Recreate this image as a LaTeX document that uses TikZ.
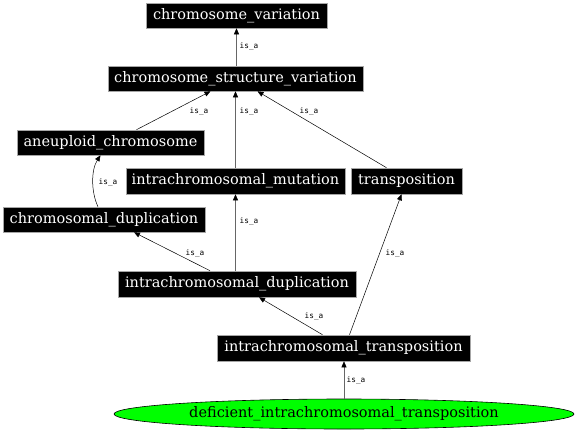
\documentclass[tikz,border=0pt]{standalone}
\usepackage{fontspec}
\setmainfont{DejaVu Serif}
\setmonofont{DejaVu Sans Mono}
\usetikzlibrary{arrows.meta,shapes.geometric}
\tikzset{
  term/.style={fill=black, draw=gray!70, line width=0.6pt, text=white, inner sep=0pt, font=\fontsize{14.5}{17}\selectfont},
  leaf/.style={ellipse, fill=green, draw=black, line width=0.6pt, inner sep=0pt, minimum width=460pt, minimum height=30pt, font=\fontsize{14.5}{17}\selectfont},
  lbl/.style={font=\ttfamily\fontsize{7.7}{9}\selectfont, inner sep=0pt},
  isa/.style={draw=black, line width=0.5pt, -{Triangle[length=6pt,width=5pt]}},
  vert/.style={draw=gray!80!black, line width=0.9pt, -{Triangle[length=6pt,width=5pt,color=black,fill=black,line width=0.5pt]}},
}
\begin{document}
\begin{tikzpicture}[x=1pt,y=-1pt]
\useasboundingbox (0,0) rectangle (576,432);
\node[term, minimum width=181pt, minimum height=25pt] (cv) at (236.5,15.5) {chromosome\_variation};
\node[term, minimum width=255pt, minimum height=25pt] (csv) at (235.5,78.5) {chromosome\_structure\_variation};
\node[term, minimum width=187pt, minimum height=25pt] (aneu) at (110.5,142.5) {aneuploid\_chromosome};
\node[term, minimum width=219pt, minimum height=26pt] (imut) at (235.5,181) {intrachromosomal\_mutation};
\node[term, minimum width=111pt, minimum height=26pt] (trans) at (406.5,181) {transposition};
\node[term, minimum width=202pt, minimum height=25pt] (cdup) at (104,219.5) {chromosomal\_duplication};
\node[term, minimum width=238pt, minimum height=26pt] (idup) at (237,284) {intrachromosomal\_duplication};
\node[term, minimum width=253pt, minimum height=26pt] (itrans) at (343.5,348) {intrachromosomal\_transposition};
\node[leaf] (dit) at (344,414) {deficient\_intrachromosomal\_transposition};

\draw[vert] (csv.north -| cv.south) -- (cv.south) node[lbl] at (249,46) {is\_a};
\draw[isa] ([xshift=26pt]aneu.north) -- ([xshift=-25pt]csv.south) node[lbl] at (199,111) {is\_a};
\draw[vert] (imut.north) -- (csv.south) node[lbl] at (249,111) {is\_a};
\draw[isa] ([xshift=-20pt]trans.north) -- ([xshift=22pt]csv.south) node[lbl] at (309,111) {is\_a};
\draw[isa] ([xshift=-6pt]cdup.north) .. controls (91,192) and (91,170) .. ([xshift=-10pt]aneu.south) node[lbl] at (108,182) {is\_a};
\draw[vert] (idup.north -| imut.south) -- (imut.south) node[lbl] at (249,221) {is\_a};
\draw[isa] ([xshift=-27pt]idup.north) -- ([xshift=30pt]cdup.south) node[lbl] at (195,253) {is\_a};
\draw[isa] ([xshift=-21pt]itrans.north) -- ([xshift=22pt]idup.south) node[lbl] at (314,316) {is\_a};
\draw[isa] ([xshift=6pt]itrans.north) -- ([xshift=-5pt]trans.south) node[lbl] at (395,253) {is\_a};
\draw[vert] (dit.north) -- (dit.north |- itrans.south) node[lbl] at (356,380) {is\_a};
\end{tikzpicture}
\end{document}
